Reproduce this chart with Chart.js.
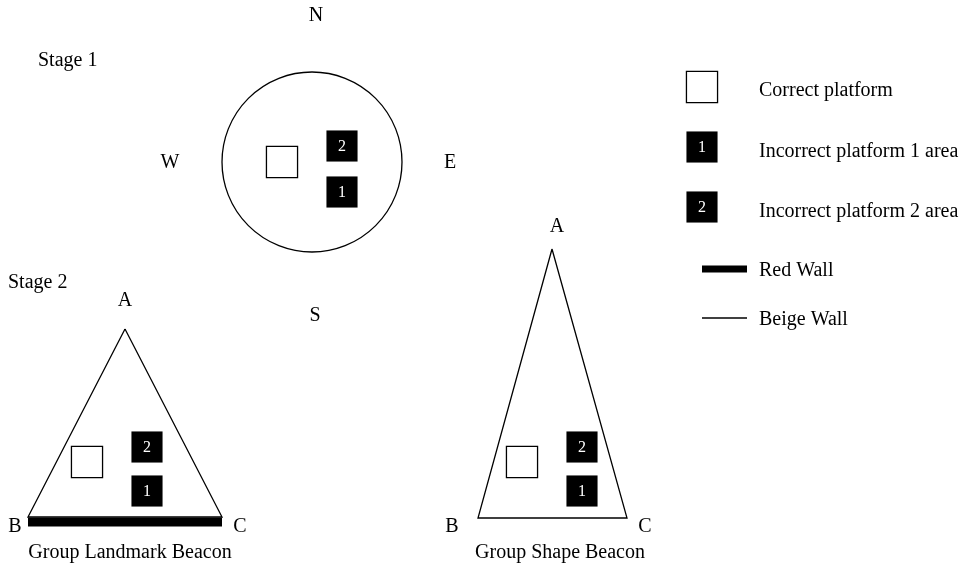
<!DOCTYPE html>
<html lang="en">
<head>
  <meta charset="UTF-8">
  <title>Stage 1 / Stage 2 platform layout</title>
  <style>
    body { margin: 0; background: #fff; }
    #diagram { display: block; }
  </style>
  <script src="https://cdn.jsdelivr.net/npm/chart.js"></script>
</head>
<body>
  <canvas id="diagram" width="966" height="567"></canvas>
  <script>
    // pool (stage 1) - centre and radius
    var poolCentre = [312, 162];
    var poolRadius = 90;

    // triangles: A, B, C, A
    var landmarkX = [125, 28, 222, 125];
    var landmarkY = [329, 517, 517, 329];
    var shapeX = [552, 478, 627, 552];
    var shapeY = [249, 518, 518, 249];

    // red wall of the landmark triangle (B -> C)
    var redWallX = [28, 222];
    var redWallY = [522, 522];

    // platforms
    var correctX = [282, 87, 522, 702];
    var correctY = [162, 462, 462, 87];
    var wrongX = [342, 342, 147, 147, 582, 582, 702, 702];
    var wrongY = [146, 192, 447, 491, 447, 491, 147, 207];
    var wrongNum = ['2', '1', '2', '1', '2', '1', '1', '2'];

    // legend line samples
    var legendRedX = [702, 747];
    var legendRedY = [269, 269];
    var legendBeigeX = [702, 747];
    var legendBeigeY = [318, 318];

    // text labels
    var labels = ['N', 'W', 'E', 'S', 'Stage 1', 'Stage 2',
      'A', 'B', 'C', 'A', 'B', 'C',
      'Group Landmark Beacon', 'Group Shape Beacon',
      'Correct platform', 'Incorrect platform 1 area', 'Incorrect platform 2 area',
      'Red Wall', 'Beige Wall'];
    var labelX = [316, 170, 450, 315, 38, 8,
      125, 15, 240, 557, 452, 645,
      130, 560,
      759, 759, 759, 759, 759];
    var labelY = [16, 163, 163, 316, 61, 283,
      301, 527, 527, 227, 527, 527,
      553, 553,
      91, 152, 212, 271, 320];
    var labelAlign = ['center', 'center', 'center', 'center', 'left', 'left',
      'center', 'center', 'center', 'center', 'center', 'center',
      'center', 'center',
      'left', 'left', 'left', 'left', 'left'];

    function pts(xs, ys) {
      var out = [];
      for (var i = 0; i < xs.length; i++) out.push({ x: xs[i], y: ys[i] });
      return out;
    }

    // draws the texts and the numbers inside the black squares
    var textPlugin = {
      id: 'texts',
      afterDatasetsDraw: function (chart) {
        var ctx = chart.ctx;
        var sx = chart.scales.x, sy = chart.scales.y;
        ctx.save();
        ctx.textBaseline = 'middle';
        ctx.fillStyle = '#000';
        ctx.font = '20px "Liberation Serif", "DejaVu Serif", serif';
        for (var i = 0; i < labels.length; i++) {
          ctx.textAlign = labelAlign[i];
          ctx.fillText(labels[i], sx.getPixelForValue(labelX[i]), sy.getPixelForValue(labelY[i]));
        }
        ctx.fillStyle = '#fff';
        ctx.textAlign = 'center';
        ctx.font = '16px "Liberation Serif", "DejaVu Serif", serif';
        for (var j = 0; j < wrongX.length; j++) {
          ctx.fillText(wrongNum[j], sx.getPixelForValue(wrongX[j]), sy.getPixelForValue(wrongY[j]) + 1);
        }
        ctx.restore();
      }
    };

    var lineStyle = { showLine: true, pointRadius: 0, borderColor: '#000', fill: false, tension: 0 };

    new Chart(document.getElementById('diagram').getContext('2d'), {
      type: 'scatter',
      data: {
        datasets: [
          { data: [{ x: poolCentre[0], y: poolCentre[1] }], pointStyle: 'circle', pointRadius: poolRadius,
            borderColor: '#000', borderWidth: 1.3, backgroundColor: 'rgba(0,0,0,0)' },
          Object.assign({ data: pts(landmarkX, landmarkY), borderWidth: 1.3 }, lineStyle),
          Object.assign({ data: pts(shapeX, shapeY), borderWidth: 1.3 }, lineStyle),
          Object.assign({ data: pts(redWallX, redWallY), borderWidth: 9, borderCapStyle: 'butt' }, lineStyle),
          Object.assign({ data: pts(legendRedX, legendRedY), borderWidth: 7, borderCapStyle: 'butt' }, lineStyle),
          Object.assign({ data: pts(legendBeigeX, legendBeigeY), borderWidth: 1.3, borderCapStyle: 'butt' }, lineStyle),
          { data: pts(correctX, correctY), pointStyle: 'rect', pointRadius: 22,
            borderColor: '#000', borderWidth: 1.3, backgroundColor: '#fff' },
          { data: pts(wrongX, wrongY), pointStyle: 'rect', pointRadius: 22,
            borderColor: '#000', borderWidth: 0, backgroundColor: '#000' }
        ]
      },
      options: {
        responsive: false,
        animation: false,
        clip: false,
        layout: { padding: 0, autoPadding: false },
        plugins: { legend: { display: false }, tooltip: { enabled: false } },
        scales: {
          x: { type: 'linear', min: 0, max: 966, display: false },
          y: { type: 'linear', min: 0, max: 567, reverse: true, display: false }
        }
      },
      plugins: [textPlugin]
    });
  </script>
</body>
</html>
